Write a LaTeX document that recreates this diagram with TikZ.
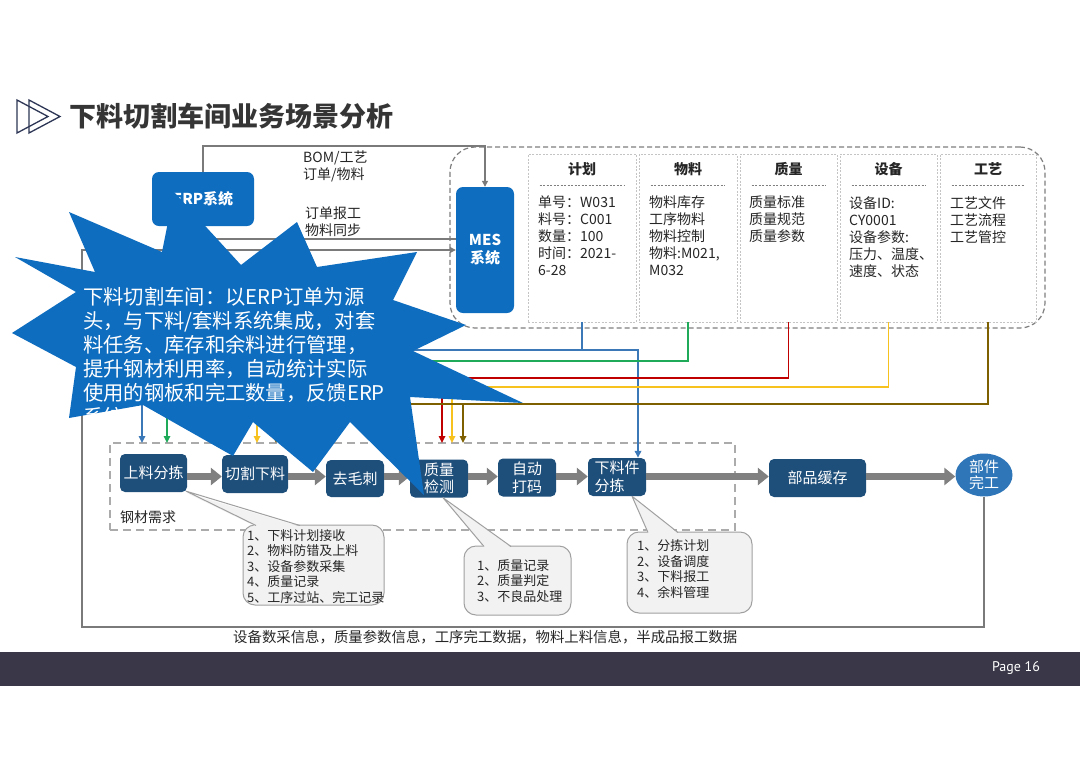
\documentclass[tikz,border=0pt]{standalone}
\usepackage{fontspec}
\setmainfont{Noto Sans CJK SC}
\newfontfamily\pagefont{PT Sans}
\usetikzlibrary{arrows.meta,shapes.geometric}
\newcommand{\myfs}[2]{\fontsize{#1}{#2}\selectfont}
\definecolor{titlegray}{HTML}{353535}
\definecolor{txt}{HTML}{262626}
\definecolor{iconc}{HTML}{2E3656}
\definecolor{sysblue}{HTML}{0F6DBF}
\definecolor{procblue}{HTML}{1E4E7A}
\definecolor{ellblue}{HTML}{2F76B8}
\definecolor{linegray}{HTML}{7A7A7A}
\definecolor{flowgray}{HTML}{808080}
\definecolor{dashgray}{HTML}{7F7F7F}
\definecolor{grpgray}{HTML}{ABABAB}
\definecolor{colgray}{HTML}{C4C4C4}
\definecolor{bubfill}{HTML}{F2F2F2}
\definecolor{bubdraw}{HTML}{A0A0A0}
\definecolor{cblue}{HTML}{3A78B8}
\definecolor{cgreen}{HTML}{1FAA5A}
\definecolor{cred}{HTML}{C00000}
\definecolor{cyellow}{HTML}{F7C21E}
\definecolor{cbrown}{HTML}{7F6000}
\definecolor{band}{HTML}{3A3848}
\tikzset{
  gline/.style={draw=linegray, line width=1.1pt},
  garr/.style={-{Triangle[length=6pt,width=6pt]}},
  carr/.style={line width=1.6pt, -{Triangle[length=7pt,width=6.5pt]}},
  sysbox/.style={fill=sysblue, rounded corners=7pt, text=white, font=\bfseries\myfs{15}{18}, align=center, inner sep=0pt},
  procbox/.style={fill=procblue, rounded corners=5pt, text=white, font=\myfs{15}{17.5}, inner sep=0pt},
  colbox/.style={draw=colgray, line width=0.7pt, dash pattern=on 2pt off 1.5pt, inner sep=0pt},
  colhead/.style={font=\bfseries\myfs{14}{16}, text=txt, inner sep=0pt},
  coltext/.style={font=\myfs{14}{17}, text=txt, align=left, inner sep=0pt, anchor=north west},
  sepline/.style={draw=dashgray, line width=0.8pt, dash pattern=on 2pt off 1.5pt},
  flow/.style={draw=flowgray, line width=7pt, -{Triangle[length=11pt,width=17pt]}},
  bubble/.style={fill=bubfill, draw=bubdraw, line width=1pt, rounded corners=12pt, inner sep=0pt},
  bubtext/.style={font=\myfs{13}{15.6}, text=txt, align=left, inner sep=0pt, anchor=north west},
  lbl/.style={font=\myfs{14}{17}, text=txt, align=left, inner sep=0pt, anchor=west},
}
\begin{document}
\begin{tikzpicture}[x=1pt,y=-1pt]
\useasboundingbox (0,0) rectangle (1080,764);
\fill[white] (0,0) rectangle (1080,764);

% title
\draw[iconc, line width=1.3pt, line join=miter] (17,100) -- (48,116.5) -- (17,133) -- cycle;
\draw[iconc, line width=1.3pt, line join=miter] (29,100) -- (60,116.5) -- (29,133) -- cycle;
\node[anchor=west, inner sep=0pt, font=\bfseries\myfs{27}{30}, text=titlegray] (title) at (69,116) {下料切割车间业务场景分析};

% systems
\node[sysbox, minimum width=102pt, minimum height=54pt] (erp) at (203,199) {ERP系统};
\node[draw=dashgray, line width=1.2pt, dash pattern=on 5pt off 3pt, rounded corners=25pt, minimum width=595pt, minimum height=181pt, inner sep=0pt] (megrp) at (747.5,237.5) {};
\node[sysbox, minimum width=58pt, minimum height=126pt] (mes) at (485,250) {MES\\系统};

% columns
\node[colbox, minimum width=108pt, minimum height=168pt] (c1) at (582,238) {};
\node[colbox, minimum width=98pt, minimum height=168pt] (c2) at (688,238) {};
\node[colbox, minimum width=97pt, minimum height=168pt] (c3) at (788.5,238) {};
\node[colbox, minimum width=97pt, minimum height=168pt] (c4) at (888.5,238) {};
\node[colbox, minimum width=96pt, minimum height=168pt] (c5) at (988,238) {};
\node[colhead] (h1) at (582,169) {计划};
\node[colhead] (h2) at (688,169) {物料};
\node[colhead] (h3) at (788.5,169) {质量};
\node[colhead] (h4) at (888.5,169) {设备};
\node[colhead] (h5) at (988,169) {工艺};
\foreach \c in {c1,c2,c3,c4,c5}{
  \draw[sepline] ([xshift=12pt,yshift=-32pt]\c.north west) -- ([xshift=-12pt,yshift=-32pt]\c.north east);
}
\node[coltext] (t1) at (538,196) {单号：W031\\料号：C001\\数量：100\\时间：2021-\\6-28};
\node[coltext] (t2) at (649,196) {物料库存\\工序物料\\物料控制\\物料:M021,\\M032};
\node[coltext] (t3) at (749,196) {质量标准\\质量规范\\质量参数};
\node[coltext] (t4) at (849,196) {设备ID:\\CY0001\\设备参数:\\压力、温度、\\速度、状态};
\node[coltext] (t5) at (950,196) {工艺文件\\工艺流程\\工艺管控};

% labels of ERP-MES links
\node[lbl] (l1) at (303,166.5) {BOM/工艺\\订单/物料};
\node[lbl] (l2) at (305,221.5) {订单报工\\物料同步};

% process group
\node[draw=grpgray, line width=1.3pt, dash pattern=on 8pt off 5pt, minimum width=625pt, minimum height=87pt, inner sep=0pt] (grp) at (422.5,486.5) {};
\node[lbl] (need) at (120,517) {钢材需求};

\node[procbox, minimum width=67pt, minimum height=38pt] (p1) at (153.5,473) {上料分拣};
\node[procbox, minimum width=66pt, minimum height=38pt] (p2) at (255,474) {切割下料};
\node[procbox, minimum width=58pt, minimum height=37pt] (p3) at (355,478.5) {去毛刺};
\node[procbox, minimum width=58pt, minimum height=38pt, align=center] (p4) at (439,478.5) {质量\\检测};
\node[procbox, minimum width=58pt, minimum height=38pt, align=center] (p5) at (527,477.5) {自动\\打码};
\node[procbox, minimum width=58pt, minimum height=38pt, align=left] (p6) at (617,477) {下料件\\分拣};
\node[procbox, minimum width=97pt, minimum height=38pt] (p7) at (817.5,478) {部品缓存};
\node[ellipse, fill=ellblue, text=white, font=\myfs{15}{16.5}, align=center, inner sep=0pt, minimum width=57pt, minimum height=42pt] (p8) at (984,475) {部件\\完工};

\coordinate (fy) at (0,476.5);
\draw[flow] (p1.east |- fy) -- (p2.west |- fy);
\draw[flow] (p2.east |- fy) -- (p3.west |- fy);
\draw[flow] (p3.east |- fy) -- (p4.west |- fy);
\draw[flow] (p4.east |- fy) -- (p5.west |- fy);
\draw[flow] (p5.east |- fy) -- (p6.west |- fy);
\draw[flow] (p6.east |- fy) -- (p7.west |- fy);
\draw[flow] (p7.east |- fy) -- (p8.west |- fy);

% colored data links
\coordinate (a1) at (142,443);
\coordinate (a2) at (167,443);
\coordinate (a3) at (257,443);
\coordinate (a4) at (276,443);
\coordinate (a5) at (442,443);
\coordinate (a6) at (452,443);
\coordinate (a7) at (463,443);
\coordinate (hB) at (142,350);
\coordinate (hG) at (167,361);
\coordinate (hR) at (442,378);
\coordinate (hY) at (257,387);
\coordinate (hN) at (276,404);
\draw[cblue, carr] (c1.south) |- (hB) -- (a1);
\draw[cblue, carr] (c1.south |- hB) -| ([xshift=21pt]p6.north);
\draw[cgreen, carr] (c2.south) |- (hG) -- (a2);
\draw[cred, carr] (c3.south) |- (hR) -- (a5);
\draw[cyellow, carr] (c4.south) |- (hY) -- (a3);
\draw[cyellow, carr] (a6 |- hY) -- (a6);
\draw[cbrown, carr] (c5.south) |- (hN) -- (a4);
\draw[cbrown, carr] (a7 |- hN) -- (a7);

% ERP / MES links
\coordinate (K) at (300,146);
\coordinate (M) at (0,239);
\coordinate (L) at (82,627);
\draw[gline, garr] (erp.north) |- (K) -| (mes.north);
\draw[gline, garr] (mes.west |- M) -| (erp.south);
\draw[gline, garr] (p8.south) |- (L) |- (mes.west);

% bubbles
\node[bubble, minimum width=141pt, minimum height=80pt] (b1) at (313.5,565) {};
\fill[bubfill] ([yshift=-1pt]p1.south east) -- (256,526.5) -- (300,526.5) -- cycle;
\draw[bubdraw, line width=1pt, line join=round] (256,525.5) -- ([xshift=-1pt,yshift=1pt]p1.south east) -- (300,525.5);
\node[bubtext] (bt1) at (247,529) {1、下料计划接收\\2、物料防错及上料\\3、设备参数采集\\4、质量记录\\5、工序过站、完工记录};

\node[bubble, minimum width=107pt, minimum height=69pt] (b2) at (517.5,580.5) {};
\fill[bubfill] ([xshift=4pt]p4.south) -- (484,547.5) -- (511,547.5) -- cycle;
\draw[bubdraw, line width=1pt, line join=round] (484,546.5) -- ([xshift=4pt]p4.south) -- (511,546.5);
\node[bubtext] (bt2) at (477,559) {1、质量记录\\2、质量判定\\3、不良品处理};

\node[bubble, minimum width=125pt, minimum height=81pt] (b3) at (689.5,572.5) {};
\fill[bubfill] ([xshift=15pt]p6.south) -- (648,533.5) -- (678,533.5) -- cycle;
\draw[bubdraw, line width=1pt, line join=round] (648,532.5) -- ([xshift=15pt]p6.south) -- (678,532.5);
\node[bubtext] (bt3) at (637,539.5) {1、分拣计划\\2、设备调度\\3、下料报工\\4、余料管理};

% bottom
\node[anchor=west, inner sep=0pt, font=\myfs{14.4}{17}, text=txt] (bottom) at (233,637) {设备数采信息，质量参数信息，工序完工数据，物料上料信息，半成品报工数据};
\fill[band] (0,652) rectangle (1080,686);
\node[inner sep=0pt, text=white, font=\pagefont\myfs{14}{16}] (page) at (1016,668) {Page 16};

% starburst
\fill[sysblue] (69,212) -- (162,252) -- (174,192) -- (241,265) -- (297,222) -- (317,267) -- (417,252) -- (393,300) -- (466,325) -- (413,351) -- (523,403) -- (410,397) -- (424,495) -- (350,422) -- (313,472) -- (253,422) -- (233,456) -- (143,405) -- (69,418) -- (76,367) -- (12,333) -- (76,292) -- (15,257) -- (95,272) -- cycle;
\begin{scope}
\clip (69,212) -- (162,252) -- (174,192) -- (241,265) -- (297,222) -- (317,267) -- (417,252) -- (393,300) -- (466,325) -- (413,351) -- (523,403) -- (410,397) -- (424,495) -- (350,422) -- (313,472) -- (253,422) -- (233,456) -- (143,405) -- (69,418) -- (76,367) -- (12,333) -- (76,292) -- (15,257) -- (95,272) -- cycle;
\node[anchor=north west, inner sep=0pt, align=left, text=white, font=\myfs{20.3}{24}] (burst) at (83,287) {下料切割车间：以ERP订单为源\\头，与下料/套料系统集成，对套\\料任务、库存和余料进行管理，\\提升钢材利用率，自动统计实际\\使用的钢板和完工数量，反馈ERP\\系统。};
\end{scope}
\end{tikzpicture}
\end{document}
